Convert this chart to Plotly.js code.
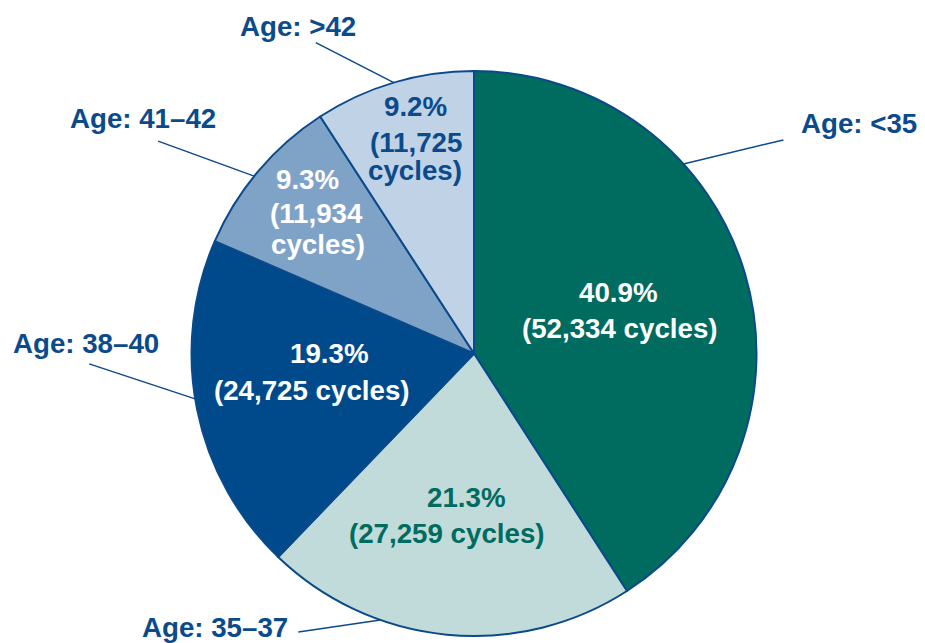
<!DOCTYPE html>
<html>
<head>
<meta charset="utf-8">
<script src="https://cdn.plot.ly/plotly-3.0.1.min.js"></script>
<style>
  html, body { margin: 0; padding: 0; background: #ffffff; }
  #chart { width: 925px; height: 643px; }
</style>
</head>
<body>
<div id="chart"></div>
<script>
// ---- data ----
const categories = ['Age: <35', 'Age: 35\u201337', 'Age: 38\u201340', 'Age: 41\u201342', 'Age: >42'];
const cycles = [52334, 27259, 24725, 11934, 11725];
const sliceColors = ['#006B5F', '#C0DBDA', '#004A8B', '#7FA3C7', '#BFD2E6'];
const insideTextColors = ['#ffffff', '#006B5F', '#ffffff', '#ffffff', '#0B4A8B'];
const wrapCycles = [false, false, false, true, true];

// ---- layout / style ----
const W = 925, H = 643;
const CX = 474, CY = 353.5, R = 282.5;
const DARK = '#0B4A8B';
const FONT = '"Liberation Sans", Arial, Helvetica, sans-serif';
const FS = 27.7;

const textRadius = [0.536, 0.575, 0.546, 0.754, 0.79];
const insideLineOffsets = [
  [[-1, -18], [1, 18]],
  [[8, -18], [-11, 18]],
  [[7, -30], [-11, 7]],
  [[-4, -36], [5, -2], [7, 29]],
  [[5, -33.5], [5, 2.5], [4, 30.5]]
];
const attachFrac = [0.325, 0.68, 0.53, 0.46, 0.5];
const leaderOffset = [[100, -24], [-82, 12], [-106, -35], [-96, -35], [-78, -40]];
const labelOffset = [[76, -16], [-83.5, -4.5], [-3, -20], [-15, -23], [-17.5, -16]];

// ---- geometry derived from data ----
const total = cycles.reduce((a, b) => a + b, 0);
const startAng = [], endAng = [];
let cum = 0;
cycles.forEach(v => { startAng.push(cum / total * 360); cum += v; endAng.push(cum / total * 360); });
function pt(deg, r) { const a = deg * Math.PI / 180; return [CX + r * Math.sin(a), CY - r * Math.cos(a)]; }
const px = x => x / W, py = y => 1 - y / H;

const annotations = [], shapes = [];
cycles.forEach((v, i) => {
  const pct = (v / total * 100).toFixed(1) + '%';
  const num = v.toLocaleString('en-US');
  const lines = wrapCycles[i] ? [pct, '(' + num, 'cycles)'] : [pct, '(' + num + ' cycles)'];
  const mid = (startAng[i] + endAng[i]) / 2;
  const anchor = pt(mid, textRadius[i] * R);
  lines.forEach((t, j) => {
    const off = insideLineOffsets[i][j];
    annotations.push({
      text: t, showarrow: false, xref: 'paper', yref: 'paper',
      x: px(anchor[0] + off[0]), y: py(anchor[1] + off[1]),
      xanchor: 'center', yanchor: 'middle',
      font: { family: FONT, size: FS, color: insideTextColors[i], weight: 700 }
    });
  });
  // leader line + outside label
  const att = startAng[i] + attachFrac[i] * (endAng[i] - startAng[i]);
  const e = pt(att, R);
  const o = [e[0] + leaderOffset[i][0], e[1] + leaderOffset[i][1]];
  shapes.push({
    type: 'line', xref: 'paper', yref: 'paper',
    x0: px(e[0]), y0: py(e[1]), x1: px(o[0]), y1: py(o[1]),
    line: { color: DARK, width: 1.5 }
  });
  annotations.push({
    text: categories[i], showarrow: false, xref: 'paper', yref: 'paper',
    x: px(o[0] + labelOffset[i][0]), y: py(o[1] + labelOffset[i][1]),
    xanchor: 'center', yanchor: 'middle',
    font: { family: FONT, size: FS, color: DARK, weight: 700 }
  });
});

const trace = {
  type: 'pie',
  labels: categories,
  values: cycles,
  sort: false,
  direction: 'clockwise',
  rotation: 0,
  textinfo: 'none',
  hoverinfo: 'none',
  marker: { colors: sliceColors, line: { color: '#0A4A8A', width: 2 } },
  domain: { x: [(CX - R) / W, (CX + R) / W], y: [(H - CY - R) / H, (H - CY + R) / H] }
};

const layout = {
  width: W, height: H,
  margin: { l: 0, r: 0, t: 0, b: 0 },
  paper_bgcolor: '#ffffff',
  showlegend: false,
  annotations: annotations,
  shapes: shapes
};

Plotly.newPlot('chart', [trace], layout, { displayModeBar: false, staticPlot: true });
</script>
</body>
</html>
